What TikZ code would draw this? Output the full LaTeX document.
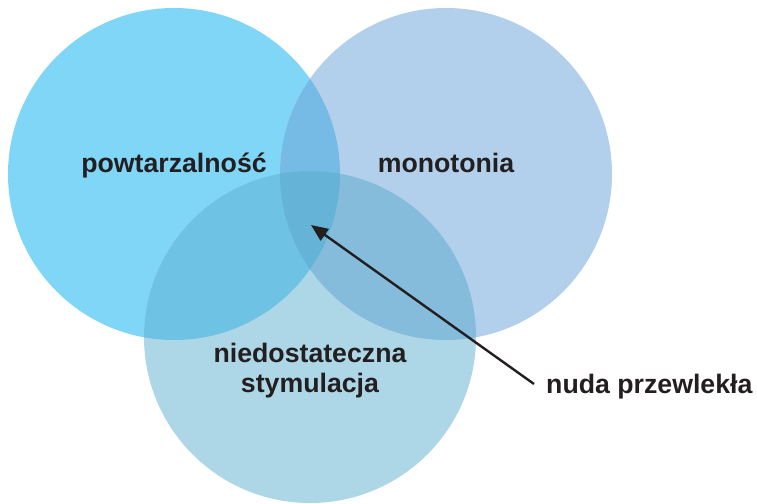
\documentclass[tikz,border=0pt]{standalone}
\usepackage{fontspec}
\setmainfont{Liberation Sans}
\usetikzlibrary{arrows.meta}
\definecolor{cL}{HTML}{80D6F7}
\definecolor{cR}{HTML}{B2D0EB}
\definecolor{cB}{HTML}{ADD6E6}
\definecolor{cLR}{HTML}{75BBE6}
\definecolor{cLB}{HTML}{6EC2E4}
\definecolor{cRB}{HTML}{86BCDB}
\definecolor{cLRB}{HTML}{66B3D8}
\definecolor{txt}{HTML}{231F20}
\tikzset{
  lbl/.style={font=\fontsize{26.7}{31}\selectfont\bfseries, text=txt, inner sep=0pt, anchor=base, align=center},
}
\begin{document}
\begin{tikzpicture}[x=1pt,y=-1pt]
\useasboundingbox (0,0) rectangle (757,503);
\def\cL{(174,174) circle (166)}
\def\cR{(446,174) circle (166)}
\def\cB{(310,337) circle (166)}
\fill[cL] \cL;
\fill[cR] \cR;
\fill[cB] \cB;
\begin{scope}\clip \cL; \fill[cLR] \cR; \end{scope}
\begin{scope}\clip \cL; \fill[cLB] \cB; \end{scope}
\begin{scope}\clip \cR; \fill[cRB] \cB; \end{scope}
\begin{scope}\clip \cL; \clip \cR; \fill[cLRB] \cB; \end{scope}
\node[lbl] (pow) at (174,172) {powtarzalność};
\node[lbl] (mon) at (446,172) {monotonia};
\node[lbl] (nie) at (310,362) {niedostateczna};
\node[lbl] (sty) at (310,392) {stymulacja};
\node[lbl, anchor=base west] (nuda) at (546,393) {nuda przewlekła};
\coordinate (tail) at (534,384);
\coordinate (tip) at (311,225);
\draw[txt, line width=2.4pt, -{Triangle[length=17pt,width=14pt]}] (tail) -- (tip);
\end{tikzpicture}
\end{document}
